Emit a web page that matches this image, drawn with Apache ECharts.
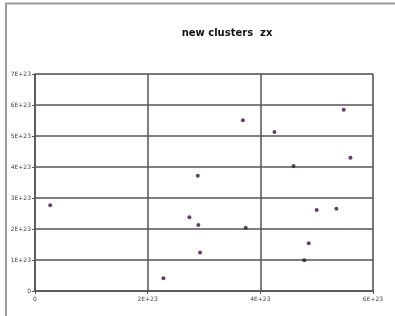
<!DOCTYPE html>
<html lang="en">
<head>
    <meta charset="UTF-8">
    <title>new clusters zx</title>
    <style>
        *{
            padding: 0;
            margin: 0;
        }
        .EC{
            width: 395px;
            height: 316px;
            background: #fff;
        }
    </style>
</head>
<body>
<div class="EC"></div>
<script src="https://cdn.jsdelivr.net/npm/echarts@6/dist/echarts.min.js"></script>
<script>
    // values in units of 1E+23
    const xValues = [0.27, 2.28, 2.74, 2.90, 2.89, 2.93, 3.69, 3.74, 4.25, 4.59, 5.00, 5.35, 4.86, 4.78, 5.48, 5.60]
    const yValues = [2.77, 0.41, 2.38, 2.13, 3.72, 1.24, 5.51, 2.04, 5.13, 4.03, 2.61, 2.65, 1.54, 0.99, 5.85, 4.30]
    const titleText = 'new clusters  zx'

    const fmt = v => v === 0 ? '0' : v + 'E+23'

    window.onload = () => {
        let EC = echarts.init(document.querySelector('.EC'))
        let data = xValues.map((x, i) => [x, yValues[i]])
        let option = {
            backgroundColor: '#fff',
            animation: false,
            title: {
                text: titleText,
                left: 222,
                top: 23,
                textAlign: 'center',
                textStyle: {
                    fontFamily: 'DejaVu Sans',
                    fontSize: 10,
                    fontWeight: 'bold',
                    color: '#111'
                }
            },
            graphic: [{
                type: 'polyline',
                shape: { points: [[6, 320], [6, 3.5], [400, 3.5]] },
                style: { stroke: '#999', lineWidth: 2, fill: null }
            }],
            grid: {
                left: 35,
                right: 22,
                top: 74,
                bottom: 25,
                show: true,
                borderColor: '#bbb',
                borderWidth: 1
            },
            xAxis: {
                type: 'value',
                min: 0,
                max: 6,
                interval: 2,
                axisLine: { show: true, onZero: false, lineStyle: { color: '#555', width: 1.5 } },
                axisTick: { show: true, length: 3, lineStyle: { color: '#555' } },
                splitLine: { show: true, lineStyle: { color: '#555', width: 1.5 } },
                axisLabel: {
                    formatter: fmt,
                    fontSize: 6,
                    color: '#444',
                    margin: 5,
                    fontFamily: 'DejaVu Sans'
                }
            },
            yAxis: {
                type: 'value',
                min: 0,
                max: 7,
                interval: 1,
                axisLine: { show: true, onZero: false, lineStyle: { color: '#555', width: 1.5 } },
                axisTick: { show: true, length: 3, lineStyle: { color: '#555' } },
                splitLine: { show: true, lineStyle: { color: '#555', width: 1.5 } },
                axisLabel: {
                    formatter: fmt,
                    fontSize: 6,
                    color: '#444',
                    margin: 4,
                    fontFamily: 'DejaVu Sans'
                }
            },
            series: [{
                type: 'scatter',
                symbol: 'circle',
                symbolSize: 4,
                itemStyle: { color: '#3a1240' },
                data: data
            }]
        }
        EC.setOption(option)
    }
</script>
</body>
</html>
